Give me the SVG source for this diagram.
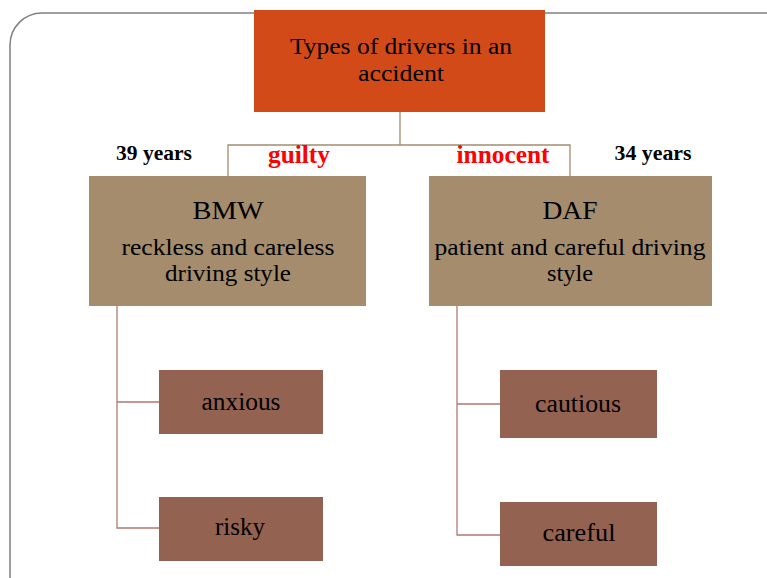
<svg xmlns="http://www.w3.org/2000/svg" width="767" height="578" viewBox="0 0 767 578">
<style>
.t{font-family:"Liberation Serif","Times New Roman",serif;fill:#000;text-anchor:middle}
.b{font-family:"Liberation Serif","Times New Roman",serif;font-weight:bold;text-anchor:middle}
.c1{stroke:#A48C6C;stroke-width:1.3;fill:none}
.c2{stroke:#B07A70;stroke-width:1.3;fill:none}
.tan{fill:#A48C6C}
.brn{fill:#946250}
</style>
<rect x="10" y="13" width="790" height="620" rx="32" fill="#fff" stroke="#808080" stroke-width="1.5"/>
<g id="connectors">
<path class="c1" d="M400 112V145M228 176V145H570V176"/>
<path class="c2" d="M117 306V528H159M117 402H159"/>
<path class="c2" d="M457 306V535H500M457 404H500"/>
</g>
<g id="root">
<rect x="254" y="10" width="291" height="102" fill="#D24A18"/>
<text class="t" x="401" y="54" font-size="24" textLength="222" lengthAdjust="spacingAndGlyphs">Types of drivers in an</text>
<text class="t" x="401" y="81" font-size="24" textLength="86" lengthAdjust="spacingAndGlyphs">accident</text>
</g>
<g id="labels">
<text class="b" x="154" y="160" font-size="21" fill="#000" textLength="76" lengthAdjust="spacingAndGlyphs">39 years</text>
<text class="b" x="299" y="163" font-size="25" fill="#FF0000" textLength="62" lengthAdjust="spacingAndGlyphs">guilty</text>
<text class="b" x="503" y="163" font-size="25" fill="#FF0000" textLength="93" lengthAdjust="spacingAndGlyphs">innocent</text>
<text class="b" x="653" y="160" font-size="21" fill="#000" textLength="77" lengthAdjust="spacingAndGlyphs">34 years</text>
</g>
<g id="bmw">
<rect class="tan" x="89" y="176" width="277" height="130"/>
<text class="t" x="228" y="219" font-size="25" textLength="71" lengthAdjust="spacingAndGlyphs">BMW</text>
<text class="t" x="228" y="255" font-size="23" textLength="213" lengthAdjust="spacingAndGlyphs">reckless and careless</text>
<text class="t" x="228" y="281" font-size="23" textLength="126" lengthAdjust="spacingAndGlyphs">driving style</text>
</g>
<g id="daf">
<rect class="tan" x="429" y="176" width="283" height="130"/>
<text class="t" x="570" y="219" font-size="25" textLength="55" lengthAdjust="spacingAndGlyphs">DAF</text>
<text class="t" x="570" y="255" font-size="23" textLength="271" lengthAdjust="spacingAndGlyphs">patient and careful driving</text>
<text class="t" x="570" y="281" font-size="23" textLength="46" lengthAdjust="spacingAndGlyphs">style</text>
</g>
<g id="anxious">
<rect class="brn" x="159" y="370" width="164" height="64"/>
<text class="t" x="241" y="410" font-size="26" textLength="79" lengthAdjust="spacingAndGlyphs">anxious</text>
</g>
<g id="risky">
<rect class="brn" x="159" y="497" width="164" height="64"/>
<text class="t" x="240" y="535" font-size="26" textLength="50" lengthAdjust="spacingAndGlyphs">risky</text>
</g>
<g id="cautious">
<rect class="brn" x="500" y="370" width="157" height="68"/>
<text class="t" x="578" y="412" font-size="26" textLength="86" lengthAdjust="spacingAndGlyphs">cautious</text>
</g>
<g id="careful">
<rect class="brn" x="500" y="502" width="157" height="64"/>
<text class="t" x="579" y="541" font-size="26" textLength="73" lengthAdjust="spacingAndGlyphs">careful</text>
</g>
</svg>
